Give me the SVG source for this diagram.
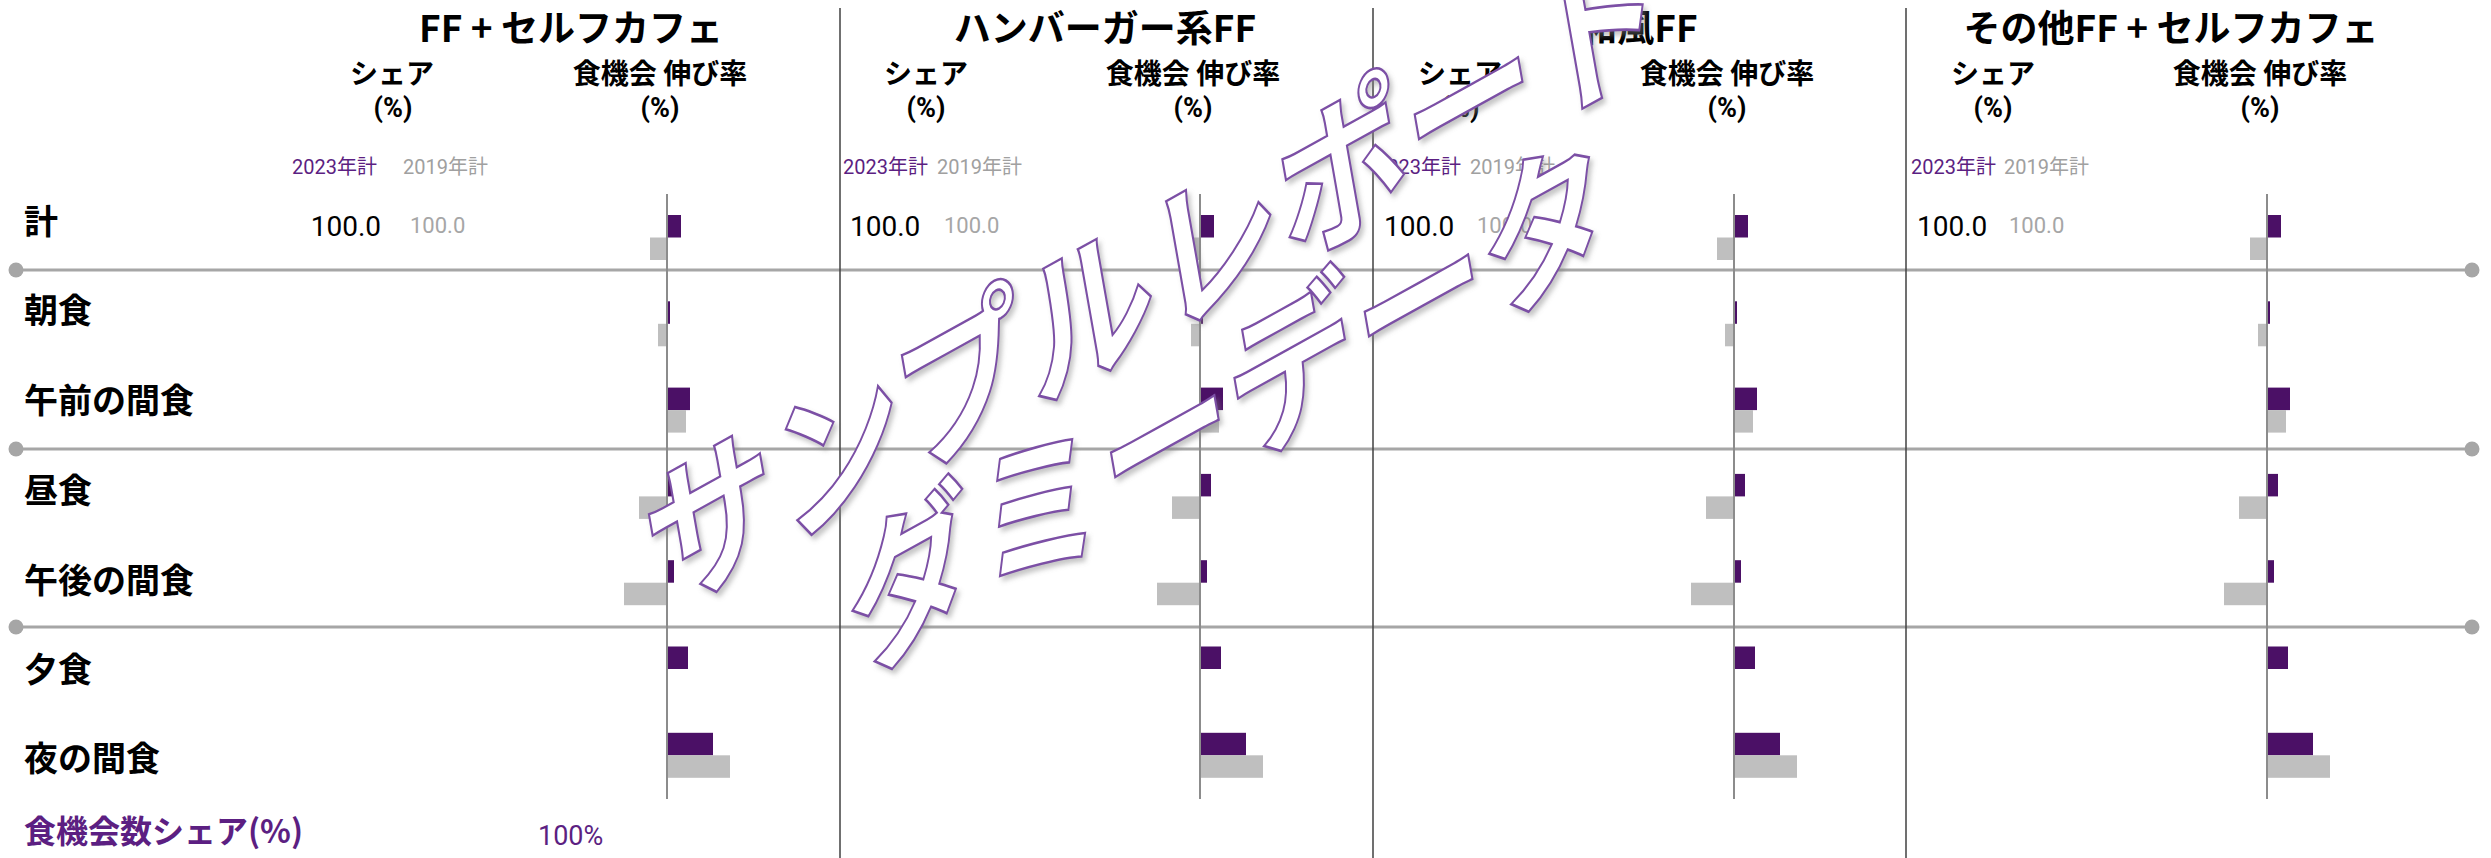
<svg xmlns="http://www.w3.org/2000/svg" width="2491" height="858" viewBox="0 0 2491 858">
<style>
.t{font-family:"Noto Sans CJK JP","Noto Sans",sans-serif;font-weight:700;font-size:37px;fill:#000;text-anchor:middle}
.h{font-family:"Noto Sans CJK JP",sans-serif;font-weight:700;font-size:28px;fill:#000;text-anchor:middle}
.pc{font-family:Roboto,"Noto Sans CJK JP",sans-serif;font-weight:700;font-size:27px;fill:#000;text-anchor:middle}
.y23{font-family:Roboto,"Noto Sans CJK JP",sans-serif;font-size:20px;fill:#5c1f82}
.y19{font-family:Roboto,"Noto Sans CJK JP",sans-serif;font-size:20px;fill:#a0a0a0}
.v1{font-family:Roboto,sans-serif;font-size:28px;fill:#000}
.v2{font-family:Roboto,sans-serif;font-size:22px;fill:#a6a6a6}
.row{font-family:"Noto Sans CJK JP",sans-serif;font-weight:700;font-size:34px;fill:#000}
.foot{font-family:"Noto Sans CJK JP",sans-serif;font-weight:700;font-size:32px;fill:#5c1f82}
.pct{font-family:Roboto,sans-serif;font-size:27px;fill:#5c1f82}
.bp{fill:#4b1066}
.bg{fill:#bfbfbf}
.ax{stroke:#8c8c8c;stroke-width:2}
.sep{stroke:#404040;stroke-width:1.5}
.hl{stroke:#a6a6a6;stroke-width:3}
.dot{fill:#a6a6a6}
.wm{font-family:"Noto Sans CJK JP",sans-serif;font-weight:700;font-size:145px;fill:#fff;stroke:#7b4fa5;stroke-width:2.2;text-anchor:middle}
</style>
<defs>
<filter id="sh" x="-10%" y="-10%" width="120%" height="120%">
<feDropShadow dx="3" dy="4" stdDeviation="2.5" flood-color="#808080" flood-opacity="0.45"/>
</filter>
<g id="bars">
<rect class="bp" x="0" y="215" width="14" height="22.5"/>
<rect class="bg" x="-17" y="237.5" width="17" height="22.5"/>
<rect class="bp" x="0" y="301.3" width="3" height="22.5"/>
<rect class="bg" x="-9" y="323.8" width="9" height="22.5"/>
<rect class="bp" x="0" y="387.6" width="23" height="22.5"/>
<rect class="bg" x="0" y="410.1" width="19" height="22.5"/>
<rect class="bp" x="0" y="473.9" width="11" height="22.5"/>
<rect class="bg" x="-28" y="496.4" width="28" height="22.5"/>
<rect class="bp" x="0" y="560.2" width="7" height="22.5"/>
<rect class="bg" x="-43" y="582.7" width="43" height="22.5"/>
<rect class="bp" x="0" y="646.5" width="21" height="22.5"/>
<rect class="bp" x="0" y="732.8" width="46" height="22.5"/>
<rect class="bg" x="0" y="755.3" width="63" height="22.5"/>
<line class="ax" x1="0" y1="194" x2="0" y2="799"/>
</g>
</defs>

<g id="connectors">
<line class="hl" x1="16" y1="270" x2="2472" y2="270"/>
<line class="hl" x1="16" y1="449" x2="2472" y2="449"/>
<line class="hl" x1="16" y1="627" x2="2472" y2="627"/>
<ellipse class="dot" cx="16" cy="270" rx="7.5" ry="7.5"/>
<ellipse class="dot" cx="2472" cy="270" rx="7.5" ry="7.5"/>
<ellipse class="dot" cx="16" cy="449" rx="7.5" ry="7.5"/>
<ellipse class="dot" cx="2472" cy="449" rx="7.5" ry="7.5"/>
<ellipse class="dot" cx="16" cy="627" rx="7.5" ry="7.5"/>
<ellipse class="dot" cx="2472" cy="627" rx="7.5" ry="7.5"/>
<line class="sep" x1="840" y1="8" x2="840" y2="858"/>
<line class="sep" x1="1373" y1="8" x2="1373" y2="858"/>
<line class="sep" x1="1906" y1="8" x2="1906" y2="858"/>
</g>

<g id="row-labels">
<text class="row" x="24" y="234">計</text>
<text class="row" x="24" y="323">朝食</text>
<text class="row" x="24" y="413">午前の間食</text>
<text class="row" x="24" y="503">昼食</text>
<text class="row" x="24" y="593">午後の間食</text>
<text class="row" x="24" y="682">夕食</text>
<text class="row" x="24" y="771">夜の間食</text>
<text class="foot" x="24" y="843">食機会数シェア(%)</text>
<text class="pct" x="538" y="845">100%</text>
</g>

<g id="chart-ff-cafe">
<text class="t" x="571" y="42">FF + セルフカフェ</text>
<text class="h" x="392" y="84">シェア</text>
<text class="pc" x="393" y="117">(%)</text>
<text class="h" x="660" y="84">食機会 伸び率</text>
<text class="pc" x="660" y="117">(%)</text>
<text class="y23" x="292" y="174">2023年計</text>
<text class="y19" x="403" y="174">2019年計</text>
<text class="v1" x="381" y="236" text-anchor="end">100.0</text>
<text class="v2" x="410" y="233">100.0</text>
<use href="#bars" x="667"/>
</g>

<g id="chart-hamburger">
<text class="t" x="1105" y="42">ハンバーガー系FF</text>
<text class="h" x="926" y="84">シェア</text>
<text class="pc" x="926" y="117">(%)</text>
<text class="h" x="1193" y="84">食機会 伸び率</text>
<text class="pc" x="1193" y="117">(%)</text>
<text class="y23" x="843" y="174">2023年計</text>
<text class="y19" x="937" y="174">2019年計</text>
<text class="v1" x="850" y="236">100.0</text>
<text class="v2" x="944" y="233">100.0</text>
<use href="#bars" x="1200"/>
</g>

<g id="chart-wafu">
<text class="t" x="1639" y="42">和風FF</text>
<text class="h" x="1460" y="84">シェア</text>
<text class="pc" x="1460" y="117">(%)</text>
<text class="h" x="1727" y="84">食機会 伸び率</text>
<text class="pc" x="1727" y="117">(%)</text>
<text class="y23" x="1376" y="174">2023年計</text>
<text class="y19" x="1470" y="174">2019年計</text>
<text class="v1" x="1384" y="236">100.0</text>
<text class="v2" x="1477" y="233">100.0</text>
<use href="#bars" x="1734"/>
</g>

<g id="chart-other">
<text class="t" x="2171" y="42">その他FF + セルフカフェ</text>
<text class="h" x="1993" y="84">シェア</text>
<text class="pc" x="1993" y="117">(%)</text>
<text class="h" x="2260" y="84">食機会 伸び率</text>
<text class="pc" x="2260" y="117">(%)</text>
<text class="y23" x="1911" y="174">2023年計</text>
<text class="y19" x="2004" y="174">2019年計</text>
<text class="v1" x="1917" y="236">100.0</text>
<text class="v2" x="2009" y="233">100.0</text>
<use href="#bars" x="2267"/>
</g>

<g id="watermark" filter="url(#sh)">
<g transform="matrix(0.875,-0.485,0.19,1.08,1154,277)"><text class="wm" x="0" y="52">サンプルレポート</text></g>
<g transform="matrix(0.875,-0.485,0.19,1.08,1229,405)"><text class="wm" x="0" y="52">ダミーデータ</text></g>
</g>
</svg>
